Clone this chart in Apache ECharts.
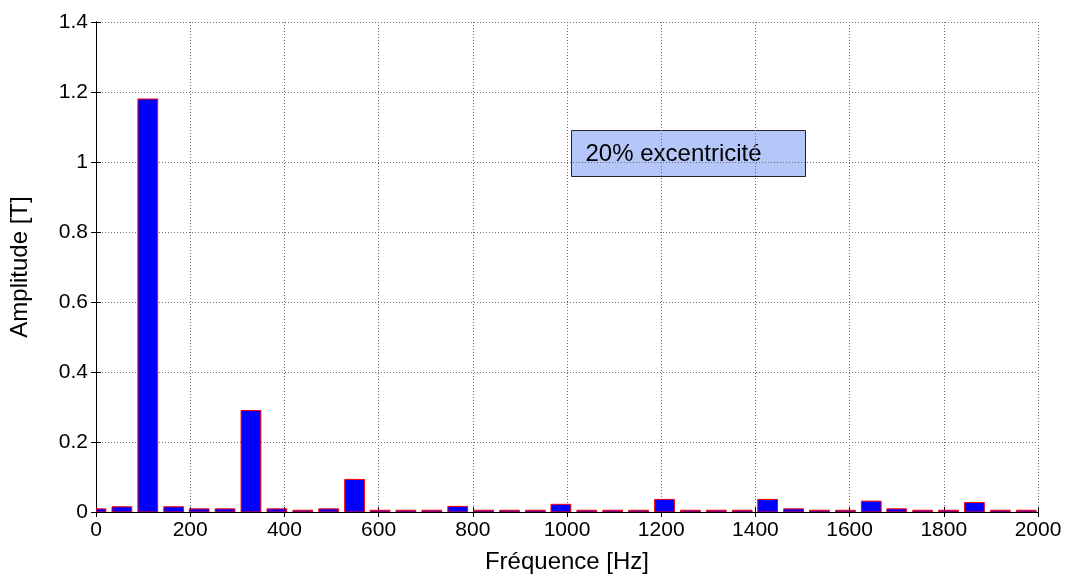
<!DOCTYPE html>
<html>
<head>
<meta charset="utf-8">
<script src="https://cdn.jsdelivr.net/npm/echarts@6/dist/echarts.min.js"></script>
<style>
  html, body { margin: 0; padding: 0; background: #fff; }
  #chart { width: 1070px; height: 579px; }
</style>
</head>
<body>
<div id="chart"></div>
<script>
// Frequencies of the spectral lines (Hz)
const freqHz = [0, 55, 110, 165, 219, 274, 329, 384, 439, 494, 549, 603, 658, 713, 768, 823, 878, 933, 987,
  1042, 1097, 1152, 1207, 1262, 1317, 1372, 1426, 1481, 1536, 1591, 1646, 1700, 1755, 1810, 1865, 1920, 1975];
// Amplitudes (T)
const amplitudeT = [0.009, 0.015, 1.18, 0.015, 0.009, 0.009, 0.29, 0.009, 0.005, 0.009, 0.093, 0.005, 0.005,
  0.005, 0.016, 0.005, 0.005, 0.005, 0.022, 0.005, 0.005, 0.005, 0.036, 0.005, 0.005,
  0.005, 0.036, 0.009, 0.005, 0.005, 0.031, 0.009, 0.005, 0.005, 0.027, 0.005, 0.005];
const xTicks = { min: 0, max: 2000, interval: 200 };
const yTicks = { min: 0, max: 1.4, interval: 0.2 };
const xTitle = 'Fréquence [Hz]';
const yTitle = 'Amplitude [T]';
const annotation = '20% excentricité';
const barWidthHz = 42;

const FONT = '"Liberation Sans", Arial, sans-serif';
const chart = echarts.init(document.getElementById('chart'), null, { renderer: 'canvas' });

const gridLine = { show: true, lineStyle: { color: '#6e6e6e', type: [1, 2], width: 1 } };
const axisLineStyle = { show: true, lineStyle: { color: '#000', width: 1 } };
const tickIn = { show: true, inside: true, length: 5, lineStyle: { color: '#000', width: 1 } };
const plainNum = v => String(Math.round(v * 1000) / 1000);

function renderBar(params, api) {
  const x = api.value(0), y = api.value(1);
  const base = api.coord([x, 0]);
  const top = api.coord([x, y]);
  const w = api.size([barWidthHz, 0])[0];
  const cs = params.coordSys;
  const rect = echarts.graphic.clipRectByRect(
    { x: base[0] - w / 2, y: top[1], width: w, height: base[1] - top[1] },
    { x: cs.x, y: cs.y, width: cs.width, height: cs.height }
  );
  if (!rect) return null;
  return {
    type: 'rect', shape: rect,
    style: { fill: '#0000ff', stroke: '#ff0000', lineWidth: 1 }
  };
}

chart.setOption({
  animation: false,
  backgroundColor: '#fff',
  grid: { left: 96, right: 32, top: 22, bottom: 67, containLabel: false },
  xAxis: [
    {
      type: 'value', min: xTicks.min, max: xTicks.max, interval: xTicks.interval,
      position: 'bottom',
      name: xTitle, nameLocation: 'middle', nameGap: 38,
      nameTextStyle: { fontFamily: FONT, fontSize: 24, color: '#000' },
      axisLine: axisLineStyle, axisTick: tickIn,
      axisLabel: { fontFamily: FONT, fontSize: 21, color: '#000', margin: 8, formatter: plainNum },
      splitLine: gridLine
    },
    {
      type: 'value', min: xTicks.min, max: xTicks.max, interval: xTicks.interval,
      position: 'top',
      axisLine: axisLineStyle, axisTick: tickIn,
      axisLabel: { show: false }, splitLine: { show: false }
    }
  ],
  yAxis: [
    {
      type: 'value', min: yTicks.min, max: yTicks.max, interval: yTicks.interval,
      position: 'left',
      name: yTitle, nameLocation: 'middle', nameGap: 64,
      nameTextStyle: { fontFamily: FONT, fontSize: 24, color: '#000' },
      axisLine: axisLineStyle, axisTick: tickIn,
      axisLabel: { fontFamily: FONT, fontSize: 21, color: '#000', margin: 8, formatter: plainNum },
      splitLine: gridLine
    },
    {
      type: 'value', min: yTicks.min, max: yTicks.max, interval: yTicks.interval,
      position: 'right',
      axisLine: axisLineStyle, axisTick: tickIn,
      axisLabel: { show: false }, splitLine: { show: false }
    }
  ],
  series: [{
    type: 'custom',
    xAxisIndex: 0, yAxisIndex: 0,
    data: freqHz.map((f, i) => [f, amplitudeT[i]]),
    encode: { x: 0, y: 1 },
    renderItem: renderBar,
    clip: true,
    z: 3
  }],
  graphic: [{
    type: 'group', left: 571, top: 130, z: 100,
    children: [
      { type: 'rect', shape: { x: 0, y: 0, width: 234, height: 46 },
        style: { fill: '#b4c7f8', stroke: '#222', lineWidth: 1 } },
      { type: 'text', x: 14, y: 24,
        style: { text: annotation, font: '24px ' + FONT, fill: '#000', verticalAlign: 'middle', align: 'left' } }
    ]
  }]
});
</script>
</body>
</html>
